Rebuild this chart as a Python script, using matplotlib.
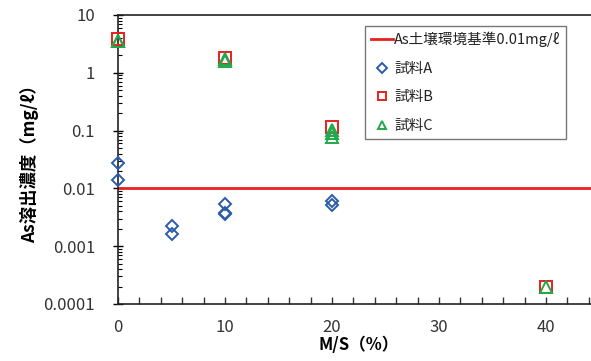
import matplotlib
matplotlib.use("Agg")
import matplotlib.pyplot as plt
from matplotlib.ticker import LogLocator, MultipleLocator, FixedLocator, NullFormatter

plt.rcParams['font.family'] = ['Noto Sans CJK JP', 'DejaVu Sans']

# data
a_x = [0, 0, 5, 5, 10, 10, 10, 20, 20]
a_y = [0.0275, 0.014, 0.0022, 0.0016, 0.0053, 0.0037, 0.0036, 0.0061, 0.0052]
b_x = [0, 10, 20, 40]
b_y = [3.8, 1.8, 0.117, 0.0002]
c_x = [0, 0, 10, 10, 20, 20, 20, 40]
c_y = [3.6, 3.5, 1.6, 1.7, 0.104, 0.078, 0.09, 0.0002]
std_value = 0.01
x_ticks = [0, 10, 20, 30, 40]
y_ticks = [0.0001, 0.001, 0.01, 0.1, 1, 10]
y_tick_labels = ['0.0001', '0.001', '0.01', '0.1', '1', '10']

fig = plt.figure(figsize=(5.91, 3.61), dpi=100)
ax = fig.add_axes([118/591, 1-304/361, (45*10.7)/591, (304-15)/361])

ax.set_yscale('log')
ax.set_xlim(0, 45)
ax.set_ylim(0.0001, 10)

ax.axhline(std_value, color='#e8201e', lw=2.0, label='As土壌環境基準0.01mg/ℓ', zorder=2)
ax.plot(a_x, a_y, linestyle='none', marker='D', markersize=6.5, mfc='none',
        mec='#2a5caa', mew=1.4, label='試料A', zorder=3, clip_on=False)
ax.plot(b_x, b_y, linestyle='none', marker='s', markersize=8, mfc='none',
        mec='#e8201e', mew=1.4, label='試料B', zorder=3, clip_on=False)
ax.plot(c_x, c_y, linestyle='none', marker='^', markersize=8, mfc='none',
        mec='#22a84a', mew=1.4, label='試料C', zorder=4, clip_on=False)

ax.xaxis.set_major_locator(FixedLocator(x_ticks))
ax.xaxis.set_minor_locator(MultipleLocator(2))
ax.set_yticks(y_ticks)
ax.set_yticklabels(y_tick_labels)
ax.yaxis.set_minor_locator(LogLocator(base=10, subs=range(2, 10)))
ax.yaxis.set_minor_formatter(NullFormatter())

ax.tick_params(axis='x', which='both', direction='in', length=5, width=1, colors='#333333',
               labelsize=12, pad=11, labelcolor='#333333')
ax.tick_params(axis='y', which='major', direction='inout', length=7, width=1,
               labelsize=12, labelcolor='#333333', pad=13)
ax.tick_params(axis='y', which='minor', direction='in', length=3, width=0.8)

for s in ax.spines.values():
    s.set_color('#222222')
    s.set_linewidth(1.2)
ax.spines['right'].set_visible(False)

ax.set_xlabel('M/S（%）', fontsize=12, fontweight='bold', labelpad=0)
ax.set_ylabel('As溶出濃度（mg/ℓ）', fontsize=12.5, fontweight='bold', labelpad=3)

leg = ax.legend(loc='upper left', bbox_to_anchor=((365-118)/(45*10.7), 1-(26-15)/289),
                fontsize=10.5, frameon=True, fancybox=False, edgecolor='#555555',
                handlelength=1.5, handletextpad=0.1, borderpad=0.4, labelspacing=1.0,
                borderaxespad=0, markerscale=0.8)
leg.get_frame().set_linewidth(1.0)
for t in leg.get_texts():
    t.set_color('#222222')

fig.savefig('out.png', dpi=100)
